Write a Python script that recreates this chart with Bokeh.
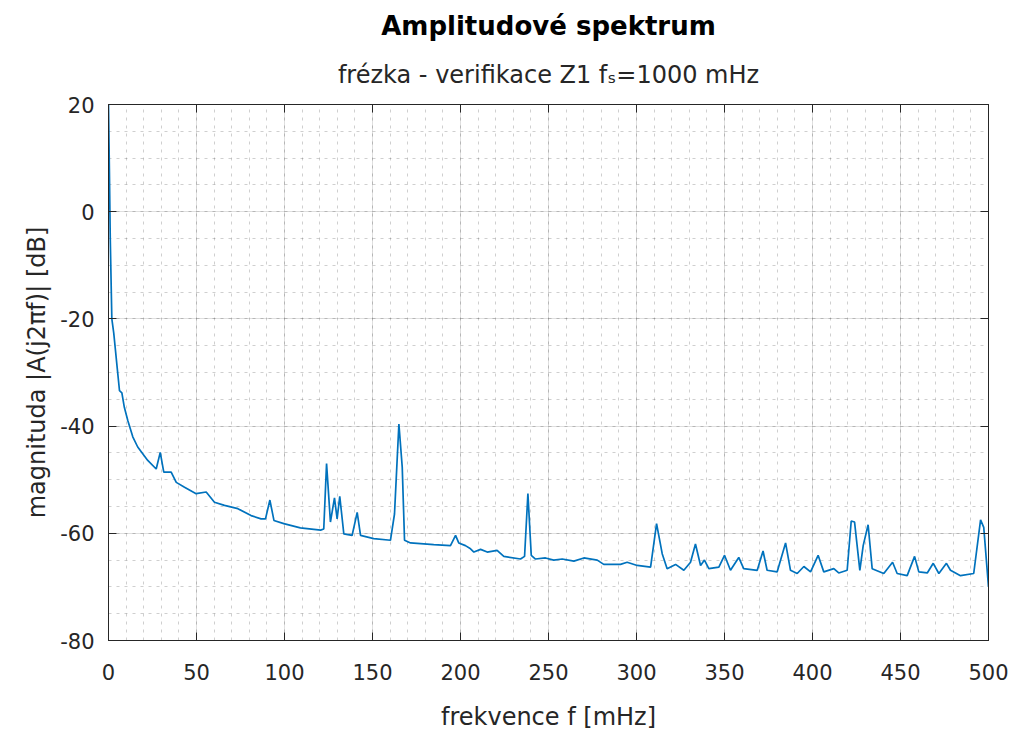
from bokeh.plotting import figure
from bokeh.models import (ColumnDataSource, Range1d, LinearAxis, SingleIntervalTicker, Title,
                          PrintfTickFormatter, CustomJSTickFormatter)
from bokeh.embed import file_html
from bokeh.resources import INLINE

# ---- data ----
freq_mhz = [0, 0.5, 1.0, 1.9, 3.0, 4.9, 6.25, 7.6, 9.0, 11.0, 13.8, 16.6, 22.3, 27.1, 29.4, 31.4,
            35.6, 38.5, 43.2, 49.8, 55.5, 60.2, 65.9, 73.5, 81, 86.7, 89.2, 91.7, 94, 99.6, 109,
            120.5, 122.3, 123.9, 126.1, 128.4, 129.9, 131.4, 133.7, 138.4, 141.3, 143.2, 150.7,
            160.2, 162.5, 165, 166.9, 168.2, 171.6, 184.8, 194.3, 197.2, 199, 202.8, 205.7, 207.6,
            211.4, 215.2, 220.8, 224.6, 234.1, 236.4, 238.3, 240.2, 242.6, 248.3, 253, 257.8,
            264.4, 270.1, 277.7, 281.4, 290.9, 294.7, 300.4, 308, 311.4, 314.6, 317.4, 322.2,
            326.9, 330.7, 333.5, 336.4, 338.6, 341.1, 346.8, 350, 353.4, 358.1, 360.9, 368.6,
            371.9, 374.2, 379.9, 384.7, 387.5, 391.3, 395.1, 398.9, 403.2, 406.4, 412.1, 414.9,
            419.7, 422, 423.9, 426.9, 428.8, 431.6, 433.9, 440.5, 445.5, 448.1, 453.8, 458,
            460.4, 465.2, 468.6, 471.8, 476.1, 478.4, 484.1, 491.6, 495.5, 497.3, 500]
magnitude_db = [20, 8, -5, -20, -22.7, -29, -33.4, -33.8, -36.5, -39, -42, -43.9, -46.4, -48, -44.9, -48.6,
                -48.6, -50.5, -51.4, -52.6, -52.3, -54.2, -54.8, -55.4, -56.7, -57.3, -57.3, -53.8, -57.6, -58.2, -59,
                -59.4, -59.2, -47.0, -57.9, -53.4, -57.3, -53.1, -60.1, -60.4, -56.1, -60.4, -61.0,
                -61.3, -56.4, -39.6, -47.7, -61.3, -61.8, -62.1, -62.3, -60.4, -61.8, -62.3, -62.9, -63.5,
                -63.0, -63.5, -63.2, -64.3, -64.8, -64.3, -52.6, -64.1, -64.8, -64.6, -65.0, -64.8,
                -65.2, -64.6, -65.0, -65.8, -65.8, -65.4, -66.0, -66.3, -58.2, -63.8, -66.6, -65.8,
                -66.9, -65.4, -62.0, -66.0, -65.0, -66.6, -66.3, -64.1, -66.9, -64.5, -66.6, -66.9,
                -63.3, -66.9, -67.2, -61.8, -66.9, -67.5, -66.2, -67.2, -64.1, -67.2, -66.6, -67.4,
                -66.9, -57.7, -57.9, -66.9, -62.3, -58.4, -66.6, -67.5, -65.4, -67.5, -67.9, -64.3,
                -67.2, -67.4, -65.6, -67.5, -65.6, -66.9, -67.9, -67.5, -57.5, -58.9, -70]

title_text = "Amplitudové spektrum"
subtitle_text = "frézka - verifikace Z1 fₛ=1000 mHz"
x_label = "frekvence f [mHz]"
y_label = "magnituda |A(j2πf)| [dB]"

FONT = "DejaVu Sans"
DARK = "#262626"

src = ColumnDataSource(dict(f=freq_mhz, a=magnitude_db))

p = figure(width=1017, height=734, output_backend="svg", toolbar_location=None,
           x_range=Range1d(0, 500), y_range=Range1d(-80, 20),
           min_border_left=108, min_border_right=29, min_border_top=104, min_border_bottom=94,
           title=None)
p.background_fill_color = "white"
p.border_fill_color = "white"
p.outline_line_color = DARK
p.outline_line_width = 1

p.line("f", "a", source=src, line_color="#0072BD", line_width=1.7)

xt = SingleIntervalTicker(interval=50, num_minor_ticks=5)
yt = SingleIntervalTicker(interval=20, num_minor_ticks=4)
p.xaxis.ticker = xt
p.yaxis.ticker = yt
p.xgrid.ticker = xt
p.ygrid.ticker = yt
p.xaxis.formatter = PrintfTickFormatter(format="%d")
p.yaxis.formatter = PrintfTickFormatter(format="%d")

for ax in (p.xaxis[0], p.yaxis[0]):
    ax.major_tick_in = 8
    ax.major_tick_out = 0
    ax.minor_tick_line_color = None
    ax.axis_line_color = DARK
    ax.major_tick_line_color = DARK
    ax.major_label_text_font = FONT
    ax.major_label_text_font_size = "21px"
    ax.major_label_text_color = DARK
    ax.axis_label_text_font = FONT
    ax.axis_label_text_font_size = "24px"
    ax.axis_label_text_font_style = "normal"
    ax.axis_label_text_color = DARK
p.xaxis.axis_label = x_label
p.yaxis.axis_label = y_label
p.xaxis.major_label_standoff = 19
p.yaxis.major_label_standoff = 10
p.xaxis.axis_label_standoff = 20
p.yaxis.axis_label_standoff = 6

for loc in ("above", "right"):
    ticker = SingleIntervalTicker(interval=50, num_minor_ticks=5) if loc == "above" else SingleIntervalTicker(interval=20, num_minor_ticks=4)
    ax = LinearAxis(ticker=ticker, major_tick_in=8, major_tick_out=0,
                    minor_tick_line_color=None, axis_line_color=DARK,
                    major_tick_line_color=DARK,
                    formatter=CustomJSTickFormatter(code="return ''"),
                    major_label_standoff=0)
    p.add_layout(ax, loc)

for g in (p.xgrid[0], p.ygrid[0]):
    g.grid_line_color = DARK
    g.grid_line_alpha = 0.15
    g.minor_grid_line_color = DARK
    g.minor_grid_line_alpha = 0.22
    g.minor_grid_line_dash = "3 5"

p.add_layout(Title(text=subtitle_text, text_font=FONT, text_font_size="24px",
                   text_font_style="normal", text_color=DARK, align="center", standoff=24), "above")
p.add_layout(Title(text=title_text, text_font=FONT, text_font_size="26px",
                   text_font_style="bold", text_color="black", align="center", standoff=11), "above")

open("out.html", "w").write(file_html(p, INLINE))
